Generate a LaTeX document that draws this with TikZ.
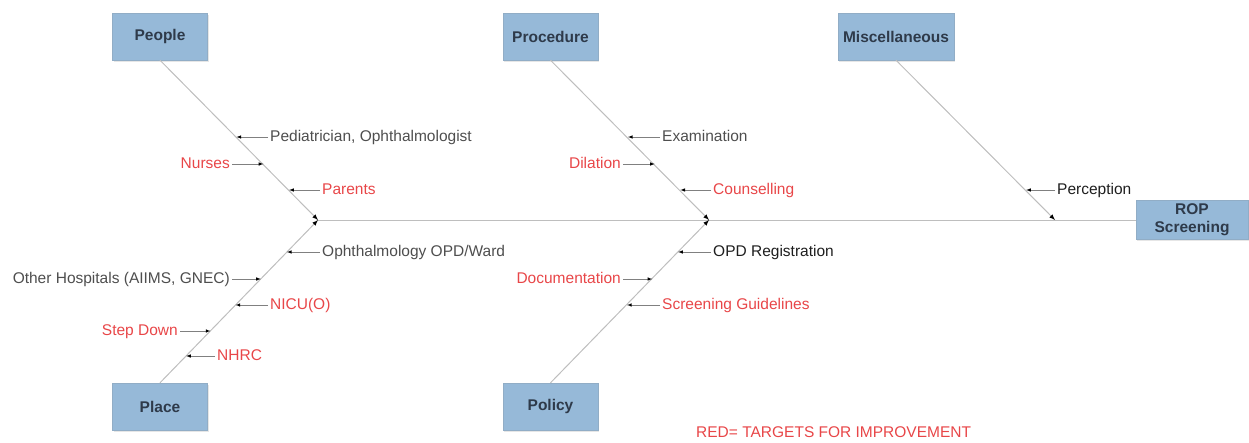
\documentclass[tikz,border=0pt]{standalone}
\usepackage{fontspec}
\setmainfont{Liberation Sans}
\usetikzlibrary{arrows,shadows}

\definecolor{boxblue}{RGB}{150,185,216}
\definecolor{boxtext}{RGB}{46,58,74}
\definecolor{bonegray}{RGB}{190,190,190}
\definecolor{labgray}{RGB}{78,78,78}
\definecolor{labdark}{RGB}{30,30,30}
\definecolor{labred}{RGB}{232,70,72}

\begin{document}
\begin{tikzpicture}[x=1pt,y=-1pt,
            cause/.style={draw=boxblue!80!gray,fill=boxblue,minimum width=95pt,minimum height=47pt,
              align=center,text=boxtext,font=\fontsize{15.5}{18}\selectfont\bfseries,
              drop shadow={opacity=.2,shadow xshift=1pt,shadow yshift=-1.5pt}},
            lab/.style={inner sep=2pt,text height=11pt,text depth=3pt,
              font=\fontsize{15.5}{18}\selectfont,text=labgray},
            red/.style={lab,text=labred},
            dark/.style={lab,text=labdark},
            bone/.style={draw=bonegray,line width=1pt},
            sub/.style={draw=gray,line width=.6pt},
            every edge/.append style={->,>=latex}
          ]
          \useasboundingbox (0,0) rectangle (1249,442);

          %categories
          \node[cause] (people) at (160,36.5) {People};
          \node[cause] (proc) at (550.5,36.5) {Procedure};
          \node[cause,minimum width=116pt] (misc) at (896,36.5) {Miscellaneous};
          \node[cause] (place) at (160,406.5) {Place};
          \node[cause] (policy) at (550.5,406.5) {Policy};
          \node[cause,minimum width=112pt,minimum height=38pt] (rop) at (1192,220) {ROP\\Screening};

          %spine
          \coordinate (j1) at (318,220);
          \coordinate (j2) at (709,220);
          \coordinate (j3) at (1055,220);
          \path[bone] (j1) -- (rop.west);
          \path[bone]
          (people.south) edge (j1)
          (place.north) edge (j1)
          (proc.south) edge (j2)
          (policy.north) edge (j2)
          (misc.south) edge (j3)
          ;

          %people
          \node[lab,anchor=west] (ped) at (268,137) {Pediatrician, Ophthalmologist};
          \node[red,anchor=east] (nurse) at (232,164) {Nurses};
          \node[red,anchor=west] (parent) at (320,190) {Parents};
          \coordinate (b11) at (236.5,137);
          \coordinate (b12) at (263.3,164);
          \coordinate (b13) at (289.2,190);

          %procedure
          \node[lab,anchor=west] (exam) at (660,137) {Examination};
          \node[red,anchor=east] (dil) at (623,164) {Dilation};
          \node[red,anchor=west] (couns) at (711,190) {Counselling};
          \coordinate (b21) at (628,137);
          \coordinate (b22) at (654.7,164);
          \coordinate (b23) at (680.4,190);

          %miscellaneous
          \node[dark,anchor=west] (perc) at (1055,190) {Perception};
          \coordinate (b31) at (1026.2,190);

          %place
          \node[lab,anchor=west] (ward) at (320,252) {Ophthalmology OPD/Ward};
          \node[lab,anchor=east] (other) at (232,279) {Other Hospitals (AIIMS, GNEC)};
          \node[red,anchor=west] (nicu) at (268,305) {NICU(O)};
          \node[red,anchor=east] (stepdown) at (180,331) {Step Down};
          \node[red,anchor=west] (nhrc) at (215,356) {NHRC};
          \coordinate (b41) at (287,252);
          \coordinate (b42) at (260.8,279);
          \coordinate (b43) at (235.6,305);
          \coordinate (b44) at (210.4,331);
          \coordinate (b45) at (186.2,356);

          %policy
          \node[dark,anchor=west] (opd) at (711,252) {OPD Registration};
          \node[red,anchor=east] (doc) at (623,279) {Documentation};
          \node[red,anchor=west] (guide) at (660,305) {Screening Guidelines};
          \coordinate (b51) at (678.2,252);
          \coordinate (b52) at (652.2,279);
          \coordinate (b53) at (627.1,305);

          \path[sub]
          (ped.west) edge (b11)
          (nurse.east) edge (b12)
          (parent.west) edge (b13)
          (exam.west) edge (b21)
          (dil.east) edge (b22)
          (couns.west) edge (b23)
          (perc.west) edge (b31)
          (ward.west) edge (b41)
          (other.east) edge (b42)
          (nicu.west) edge (b43)
          (stepdown.east) edge (b44)
          (nhrc.west) edge (b45)
          (opd.west) edge (b51)
          (doc.east) edge (b52)
          (guide.west) edge (b53)
          ;

          %legend
          \node[red,anchor=west] (legend) at (694,433) {RED= TARGETS FOR IMPROVEMENT};
      \end{tikzpicture}
\end{document}
